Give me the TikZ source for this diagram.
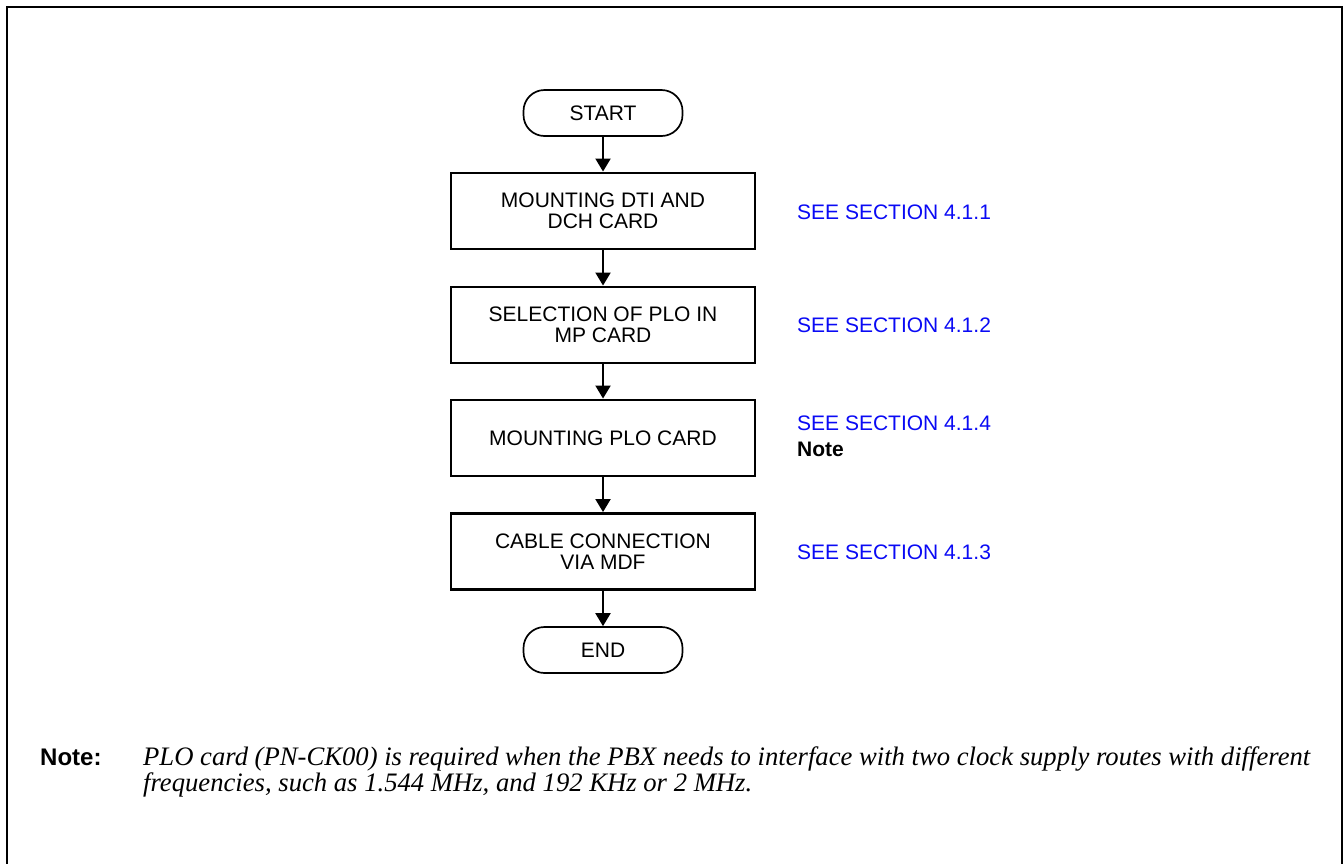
\documentclass[tikz,border=0pt]{standalone}
\usepackage{fontspec}
\setmainfont{Liberation Serif}
\setsansfont{Liberation Sans}
\usetikzlibrary{arrows.meta}
\definecolor{secblue}{RGB}{10,10,245}
\newsavebox\noteline
\newlength\notelen
\newcommand\notefont{\rmfamily\itshape\fontsize{22}{26}\selectfont}
\begin{document}
\sbox\noteline{\notefont PLO card (PN-CK00) is required when the PBX needs to interface with two clock supply routes with different}%
\setlength\notelen{\wd\noteline}%
\pgfmathsetmacro\nscale{1167/\notelen}%
\begin{tikzpicture}[x=1pt,y=-1pt,
  boxtext/.style={font=\sffamily\fontsize{21}{21.3}\selectfont, align=center},
  procbox/.style={boxtext, draw, line width=2.9pt, minimum width=304pt, minimum height=76pt, inner sep=0pt},
  termbox/.style={boxtext, draw, line width=1.7pt, rounded corners=21pt, minimum width=159pt, minimum height=46pt, inner sep=0pt},
  flow/.style={line width=2pt, -{Triangle[length=13pt,width=15pt]}},
  seclabel/.style={font=\sffamily\fontsize{21}{21.3}\selectfont, text=secblue, anchor=base west, inner sep=0pt},
  notehead/.style={font=\sffamily\bfseries\fontsize{24}{26}\selectfont, anchor=base west, inner sep=0pt},
  notetext/.style={anchor=base west, inner sep=0pt},
  frame/.style={line width=1.5pt}
]
\useasboundingbox (0,0) rectangle (1344,863);
\fill[white] (0,0) rectangle (1344,863);
\draw[frame] (7,875) -- (7,7) -- (1342,7) -- (1342,875);

\node[termbox] (start) at (603,113) {START};
\node[procbox] (b1) at (603,211) {MOUNTING DTI AND\\DCH CARD};
\node[procbox] (b2) at (603,325) {SELECTION OF PLO IN\\MP CARD};
\node[procbox] (b3) at (603,438) {MOUNTING PLO CARD};
\node[procbox] (b4) at (603,551.5) {CABLE CONNECTION\\VIA MDF};
\node[termbox] (end) at (603,650) {END};

\draw[flow] (start) -- (b1);
\draw[flow] (b1) -- (b2);
\draw[flow] (b2) -- (b3);
\draw[flow] (b3) -- (b4);
\draw[flow] (b4) -- (end);

\node[seclabel] (s1) at (797,219.5) {SEE SECTION 4.1.1};
\node[seclabel] (s2) at (797,332.5) {SEE SECTION 4.1.2};
\node[seclabel] (s4) at (797,430.5) {SEE SECTION 4.1.4};
\node[seclabel, text=black, font=\sffamily\bfseries\fontsize{21}{21.3}\selectfont] (nref) at (797,456.5) {Note};
\node[seclabel] (s3) at (797,559.5) {SEE SECTION 4.1.3};

\node[notehead] (nh) at (40,765) {Note:};
\node[notetext] (n1) at (143,765) {\scalebox{\nscale}{\usebox\noteline}};
\node[notetext] (n2) at (143,791.5) {\scalebox{\nscale}{\notefont frequencies, such as 1.544 MHz, and 192 KHz or 2 MHz.}};
\end{tikzpicture}
\end{document}
